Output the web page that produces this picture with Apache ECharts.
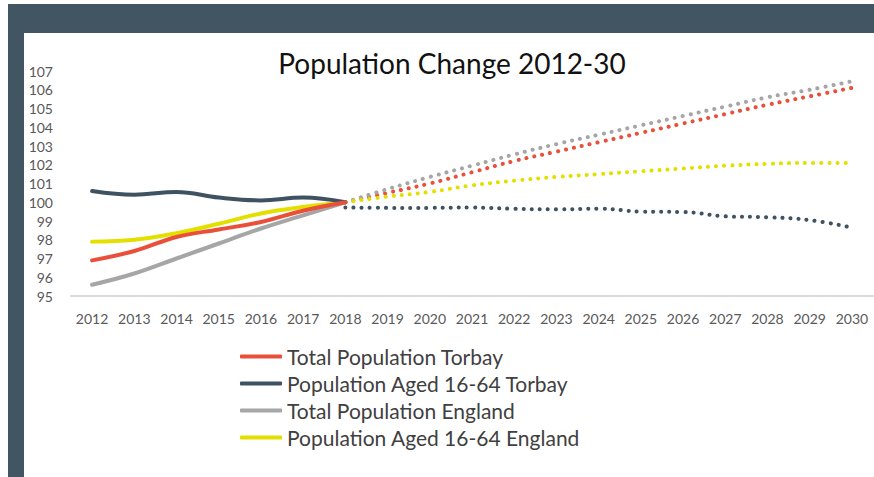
<!DOCTYPE html>
<html>
<head>
<meta charset="utf-8">
<script src="https://cdn.jsdelivr.net/npm/echarts@6/dist/echarts.min.js"></script>
<style>
html,body{margin:0;padding:0;background:#fff;}
#c{width:874px;height:477px;}
</style>
</head>
<body>
<div id="c"></div>
<script>
var years = ['2012','2013','2014','2015','2016','2017','2018','2019','2020','2021','2022','2023','2024','2025','2026','2027','2028','2029','2030'];
var yTicks = [95,96,97,98,99,100,101,102,103,104,105,106,107];

// Observed 2012-2018 (solid)
var torbayTotal   = [96.9, 97.4, 98.15, 98.55, 98.95, 99.55, 100];
var torbay1664    = [100.6, 100.4, 100.55, 100.25, 100.1, 100.25, 100];
var englandTotal  = [95.6, 96.2, 97.0, 97.8, 98.6, 99.3, 100];
var england1664   = [97.9, 98.0, 98.35, 98.85, 99.4, 99.75, 100];

// Projected 2018-2030 (dotted)
var torbayTotalP  = [100, 100.5, 101.0, 101.6, 102.2, 102.7, 103.2, 103.7, 104.2, 104.7, 105.2, 105.65, 106.1];
var torbay1664P   = [99.72, 99.7, 99.7, 99.72, 99.65, 99.62, 99.66, 99.5, 99.48, 99.25, 99.2, 99.05, 98.65];
var englandTotalP = [100, 100.7, 101.35, 101.95, 102.55, 103.1, 103.6, 104.1, 104.6, 105.1, 105.6, 106.0, 106.45];
var england1664P  = [100, 100.3, 100.55, 100.9, 101.15, 101.35, 101.5, 101.65, 101.8, 101.95, 102.05, 102.1, 102.1];

var names = ['Total Population Torbay','Population Aged 16-64 Torbay','Total Population England','Population Aged 16-64 England'];
var colors = ['#E9503A','#3F5261','#A6A6A6','#E3E000'];

function solid(arr){ var o = arr.slice(); while(o.length < years.length) o.push(null); return o; }
function proj(arr){ var o = []; for (var i=0;i<years.length-arr.length;i++) o.push(null); return o.concat(arr); }

var obs = [torbayTotal, torbay1664, englandTotal, england1664];
var prj = [torbayTotalP, torbay1664P, englandTotalP, england1664P];
var series = [];
for (var i=0;i<4;i++){
  series.push({
    name: names[i], type:'line', data: proj(prj[i]), smooth:0.4, showSymbol:false, symbol:'none',
    z: 2,
    lineStyle:{color:colors[i], width:4, type:[0.1,8], cap:'round'}, itemStyle:{color:colors[i]}, silent:true
  });
}
for (var i=3;i>=0;i--){
  series.push({
    name: names[i], type:'line', data: solid(obs[i]), smooth:0.4, showSymbol:false, symbol:'none',
    z: 3,
    lineStyle:{color:colors[i], width:4, cap:'round'}, itemStyle:{color:colors[i]}
  });
}

var chart = echarts.init(document.getElementById('c'), null, {renderer:'svg'});
chart.setOption({
  animation:false,
  backgroundColor:'#fff',
  title:{text:'Population Change 2012-30', left:447, textAlign:'center', top:44,
    textStyle:{fontFamily:'Lato', fontSize:28, fontWeight:'normal', color:'#111'}},
  graphic:[
    {type:'rect', shape:{x:8,y:4,width:866,height:29}, style:{fill:'#425563'}, silent:true},
    {type:'rect', shape:{x:8,y:4,width:16,height:473}, style:{fill:'#425563'}, silent:true}
  ],
  legend:{
    data: names, orient:'vertical', left:235, top:341, itemGap:6,
    icon:'roundRect', itemWidth:42, itemHeight:4,
    textStyle:{fontFamily:'Lato', fontSize:21, color:'#404040'}
  },
  grid:{left:71, right:1, top:71, bottom:181},
  xAxis:{
    type:'category', data: years, boundaryGap:true,
    axisLine:{lineStyle:{color:'#D9D9D9', width:2}},
    axisTick:{show:false},
    axisLabel:{fontFamily:'Lato', fontSize:14, color:'#595959', margin:15, interval:0}
  },
  yAxis:{
    type:'value', min:yTicks[0], max:yTicks[yTicks.length-1], interval:1,
    splitLine:{show:false}, axisLine:{show:false}, axisTick:{show:false},
    axisLabel:{fontFamily:'Lato', fontSize:14, color:'#595959', margin:18}
  },
  series: series
});
</script>
</body>
</html>
